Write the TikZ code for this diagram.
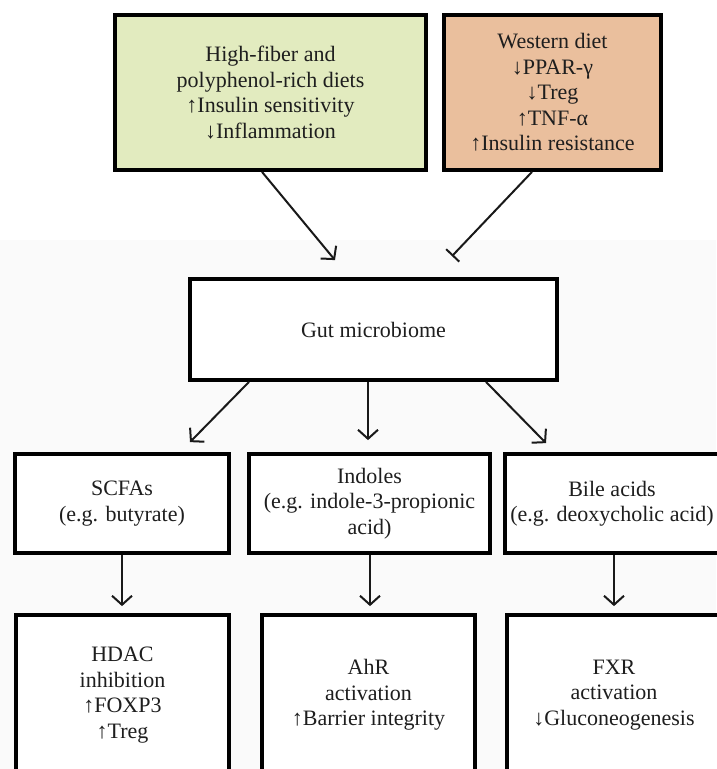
\documentclass[tikz,border=0pt]{standalone}
\usepackage{fontspec}
\setmainfont{Liberation Serif}
\usetikzlibrary{arrows.meta,calc}
\definecolor{greenfill}{HTML}{E2EBBF}
\definecolor{orangefill}{HTML}{EABF9D}
\definecolor{txt}{HTML}{1E1E1E}
\definecolor{bgtint}{HTML}{FAFAFA}
\tikzset{
  box/.style={draw=black, line width=3.8pt, align=center, text=txt,
    font=\fontsize{22}{25.5}\selectfont, inner sep=0pt},
  arr/.style={line width=2pt, draw=black!90,
    -{Straight Barb[length=9pt,width=20pt,line width=2pt]}},
  inh/.style={line width=2pt, draw=black!90,
    -{Bar[width=18pt,line width=2pt]}},
}
\begin{document}
\begin{tikzpicture}[x=1pt,y=-1pt]
\useasboundingbox (0,0) rectangle (716,769);
\fill[bgtint] (0,240) rectangle (716,769);

% top row
\node[box, fill=greenfill, minimum width=311pt, minimum height=155pt] (green) at (270.5,92.5)
  {High-fiber and\\polyphenol-rich diets\\↑Insulin sensitivity\\↓Inflammation};
\node[box, fill=orangefill, minimum width=217pt, minimum height=155pt] (orange) at (552.5,92.5)
  {Western diet\\↓PPAR-γ\\↓Treg\\↑TNF-α\\↑Insulin resistance};

% middle
\node[box, fill=white, minimum width=367pt, minimum height=101pt] (gut) at (373.5,329.5)
  {Gut microbiome};

% second row
\node[box, fill=white, minimum width=214pt, minimum height=99pt] (scfa) at (122,503.5)
  {SCFAs\\(e.g. butyrate)};
\node[box, fill=white, minimum width=241pt, minimum height=99pt] (ind) at (369.5,503.5)
  {Indoles\\(e.g. indole-3-propionic\\acid)};
\node[box, fill=white, minimum width=214pt, minimum height=99pt] (bile) at (612,503.5)
  {Bile acids\\(e.g. deoxycholic acid)};

% third row
\node[box, fill=white, minimum width=213pt, minimum height=160pt] (hdac) at (122.5,695)
  {HDAC\\inhibition\\↑FOXP3\\↑Treg};
\node[box, fill=white, minimum width=213pt, minimum height=160pt] (ahr) at (368.5,695)
  {AhR\\activation\\↑Barrier integrity};
\node[box, fill=white, minimum width=214pt, minimum height=160pt] (fxr) at (614,695)
  {FXR\\activation\\↓Gluconeogenesis};

% connectors
\draw[arr] ($(green.south)+(-8.5,0)$) -- ($(gut.north)+(-38.5,-17)$);
\draw[inh] ($(orange.south)+(-20.5,0)$) -- ($(gut.north)+(78.5,-21)$);

\draw[arr] ($(gut.south)+(-124.5,0)$) -- ($(scfa.north)+(68,-10)$);
\draw[arr] ($(gut.south)+(-5.5,0)$) -- ($(ind.north)+(-1.5,-12)$);
\draw[arr] ($(gut.south)+(112.5,0)$) -- ($(bile.north)+(-66,-9)$);

\draw[arr] (scfa.south) -- ($(scfa.south |- hdac.north)+(0,-7)$);
\draw[arr] ($(ind.south)+(0.5,0)$) -- ($(ind.south |- ahr.north)+(0.5,-7)$);
\draw[arr] (bile.south -| fxr.north) -- ($(fxr.north)+(0,-7)$);
\end{tikzpicture}
\end{document}
